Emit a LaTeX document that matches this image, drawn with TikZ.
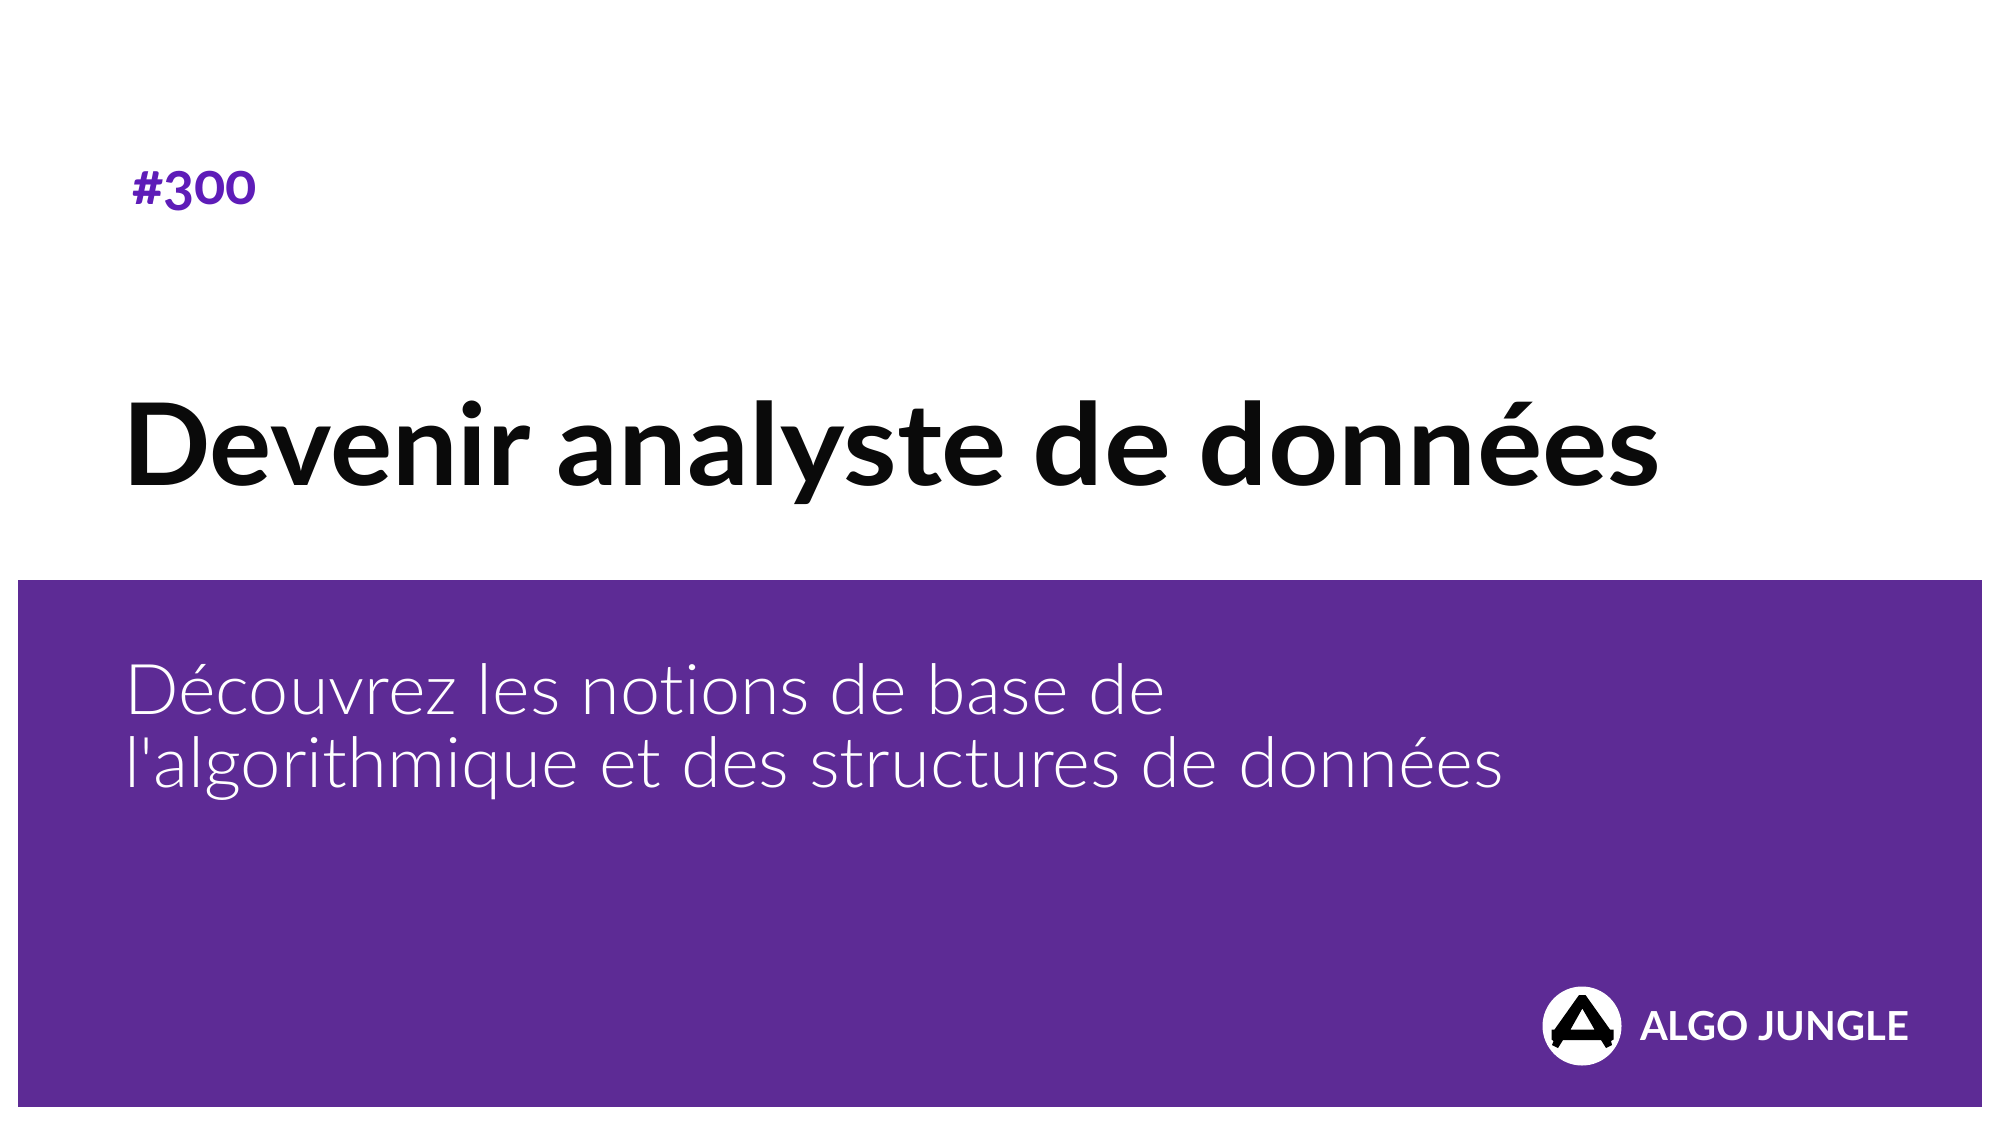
\documentclass[tikz,border=0pt]{standalone}
\usepackage{fontspec}
\setmainfont[Ligatures={NoCommon}]{Lato}
\newfontfamily\numfont[Numbers=OldStyle]{Lato}
\newfontfamily\lightfont[Ligatures={NoCommon}]{Lato Light}
\definecolor{band}{HTML}{5D2B95}
\definecolor{tag}{HTML}{5E1CB8}
\definecolor{ink}{HTML}{0A0A0A}
\begin{document}
\begin{tikzpicture}[x=0.5pt,y=-0.5pt,
  txt/.style={inner sep=0pt,outer sep=0pt,anchor=base west}]
\useasboundingbox (0,0) rectangle (2000,1125);
\fill[white] (0,0) rectangle (2000,1125);
\fill[band] (17.5,580) rectangle (1982,1107);
\node[txt,text=tag,font=\numfont\bfseries\fontsize{29}{34}\selectfont] (num) at (132,204) {\#300};
\node[txt,text=ink,font=\bfseries\fontsize{57}{68}\selectfont] (title) at (122,485) {\scalebox{1.021}[1]{Devenir}\hspace{13pt}\scalebox{1.071}[1]{analyste}\hspace{13pt}\scalebox{1.10}[1]{de}\hspace{14pt}\scalebox{1.074}[1]{données}};
\node[txt,text=white,font=\lightfont\fontsize{35}{42}\selectfont] (subA) at (124,714) {\scalebox{1.027}[1]{Découvrez les notions de base de}};
\node[txt,text=white,font=\lightfont\fontsize{35}{42}\selectfont] (subB) at (124,787) {\scalebox{1.034}[1]{l\symbol{39}algorithmique et des structures de données}};
\node[txt,text=white,font=\bfseries\fontsize{20}{24}\selectfont] (brand) at (1640,1040) {ALGO JUNGLE};
\fill[white] (1582,1026) circle[radius=39.5];
\fill[black,even odd rule]
 (1579,995) -- (1585.5,995) -- (1610,1029.5) -- (1613.5,1029.5) -- (1613.5,1039.5) -- (1611,1041) -- (1612,1045) -- (1606,1048) -- (1601,1040) -- (1563,1040) -- (1558,1048) -- (1552,1045) -- (1553.5,1041) -- (1551.5,1039.5) -- (1551.5,1029.5) -- (1554.5,1029.5) -- cycle
 (1582.3,1008.5) -- (1570.5,1029.5) -- (1594.5,1029.5) -- cycle;
\end{tikzpicture}
\end{document}
